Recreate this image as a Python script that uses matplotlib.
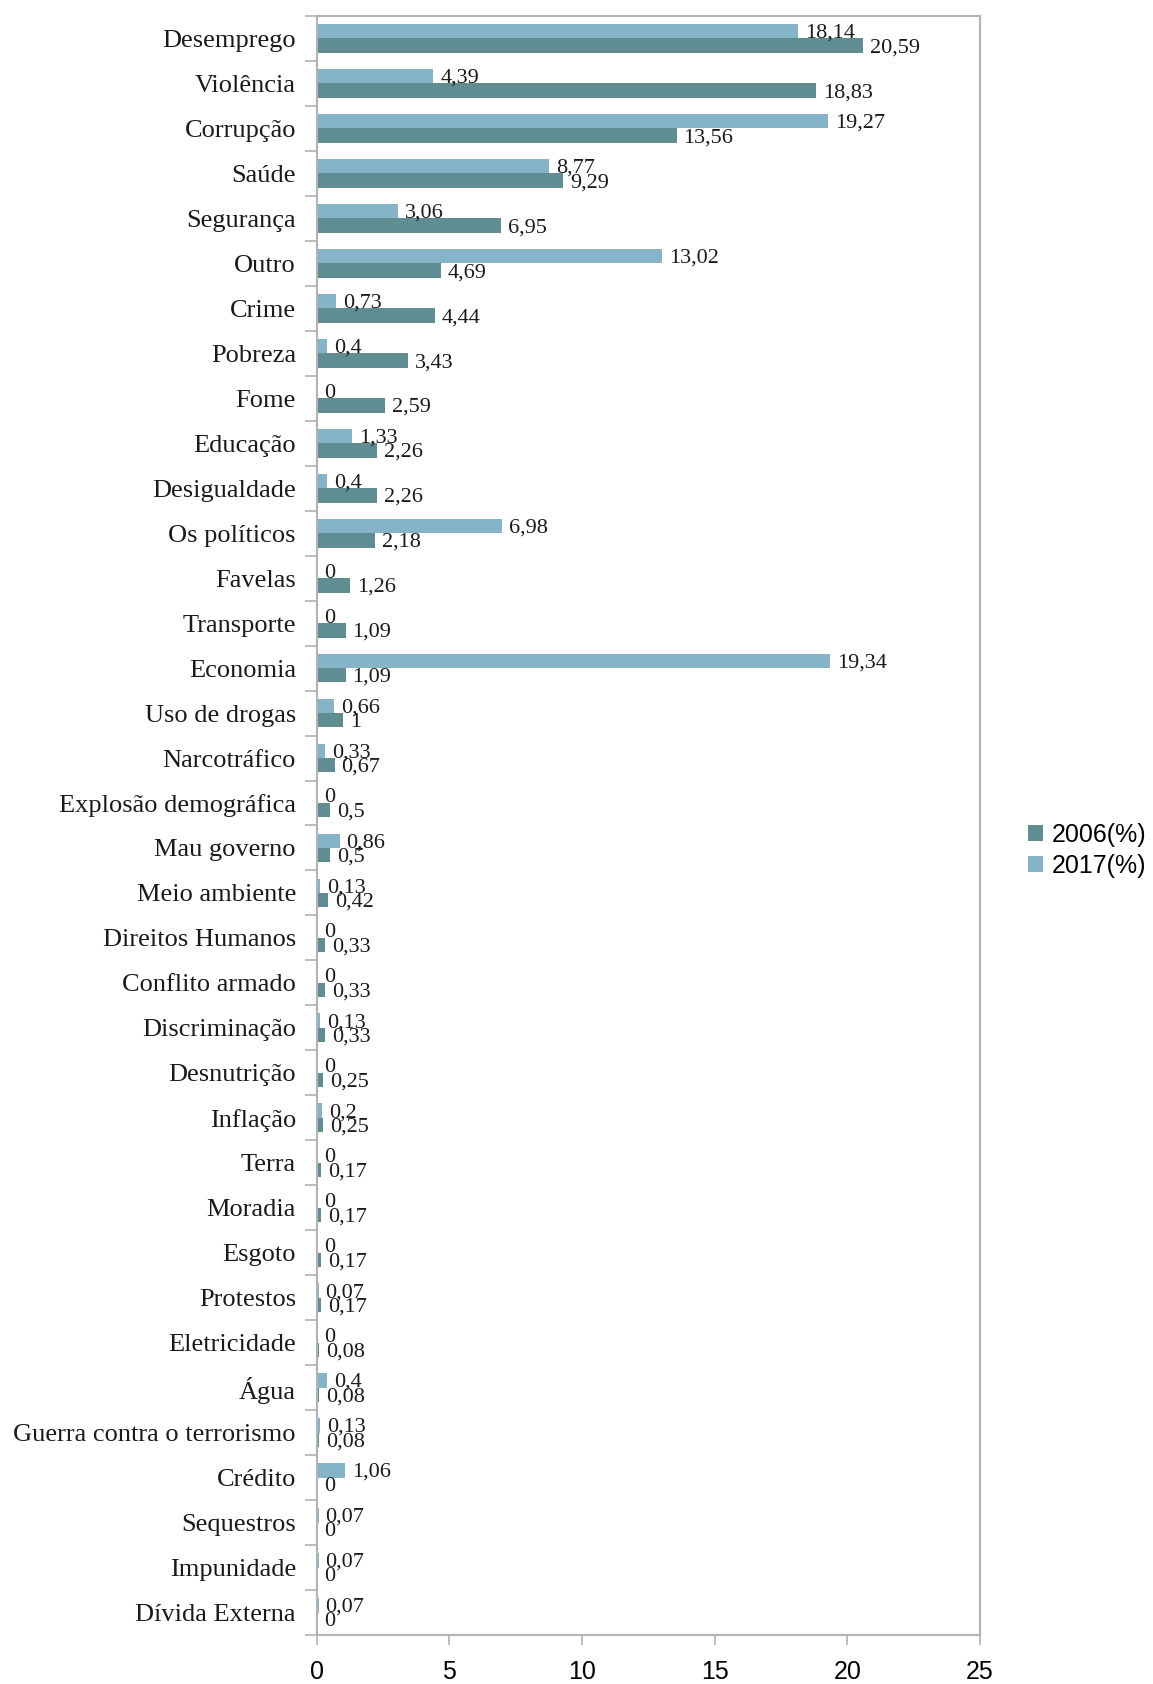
import numpy as np
import matplotlib
matplotlib.use("Agg")
import matplotlib.pyplot as plt
from matplotlib.patches import Patch

# Problemas mais importantes do país (percentual de respostas)
categorias = [
    "Desemprego", "Violência", "Corrupção", "Saúde", "Segurança", "Outro",
    "Crime", "Pobreza", "Fome", "Educação", "Desigualdade", "Os políticos",
    "Favelas", "Transporte", "Economia", "Uso de drogas", "Narcotráfico",
    "Explosão demográfica", "Mau governo", "Meio ambiente", "Direitos Humanos",
    "Conflito armado", "Discriminação", "Desnutrição", "Inflação", "Terra",
    "Moradia", "Esgoto", "Protestos", "Eletricidade", "Água",
    "Guerra contra o terrorismo", "Crédito", "Sequestros", "Impunidade",
    "Dívida Externa",
]
v2006 = [20.59, 18.83, 13.56, 9.29, 6.95, 4.69, 4.44, 3.43, 2.59, 2.26, 2.26,
         2.18, 1.26, 1.09, 1.09, 1, 0.67, 0.5, 0.5, 0.42, 0.33, 0.33, 0.33,
         0.25, 0.25, 0.17, 0.17, 0.17, 0.17, 0.08, 0.08, 0.08, 0, 0, 0, 0]
v2017 = [18.14, 4.39, 19.27, 8.77, 3.06, 13.02, 0.73, 0.4, 0, 1.33, 0.4,
         6.98, 0, 0, 19.34, 0.66, 0.33, 0, 0.86, 0.13, 0, 0, 0.13, 0, 0.2,
         0, 0, 0, 0.07, 0, 0.4, 0.13, 1.06, 0.07, 0.07, 0.07]
xticks = [0, 5, 10, 15, 20, 25]

COR_2006 = "#5f8d92"
COR_2017 = "#85b4c9"
CINZA = "#b3b3b3"
SERIF = ["Liberation Serif", "DejaVu Serif"]
SANS = ["Liberation Sans", "DejaVu Sans"]


def fmt(v):
    return f"{v:g}".replace(".", ",")


fig = plt.figure(figsize=(11.53, 16.84), dpi=100)
ax = fig.add_axes([0.2747, 0.0291, 0.8500 - 0.2747, 0.9905 - 0.0291])

n = len(categorias)
y = np.arange(n)
h = 0.32

b17 = ax.barh(y - h / 2, v2017, height=h, color=COR_2017, linewidth=0)
b06 = ax.barh(y + h / 2, v2006, height=h, color=COR_2006, linewidth=0)

for bars, vals in ((b17, v2017), (b06, v2006)):
    for bar, v in zip(bars, vals):
        ax.annotate(fmt(v), (v, bar.get_y() + bar.get_height() / 2),
                    xytext=(5, -1.5), textcoords="offset points",
                    ha="left", va="center", fontsize=16, family=SERIF,
                    color="#1a1a1a")

ax.set_xlim(0, 25)
ax.set_ylim(n - 0.5, -0.5)
ax.set_xticks(xticks)
ax.set_xticklabels([str(t) for t in xticks], family=SANS, fontsize=18)

ax.set_yticks(y)
ax.set_yticklabels(categorias, family=SERIF, fontsize=19, color="#1a1a1a")
ax.set_yticks(np.arange(-0.5, n, 1), minor=True)
ax.tick_params(axis="y", which="major", length=0, pad=15)
ax.tick_params(axis="y", which="minor", length=9, width=1.2, color=CINZA)
ax.tick_params(axis="x", length=7, width=1.2, color=CINZA, pad=11)

for s in ax.spines.values():
    s.set_color(CINZA)
    s.set_linewidth(1.5)

handles = [Patch(facecolor=COR_2006, label="2006(%)"),
           Patch(facecolor=COR_2017, label="2017(%)")]
fig.legend(handles=handles, loc="center left", bbox_to_anchor=(0.892, 0.495),
           frameon=False, prop={"family": SANS, "size": 18},
           handlelength=0.6, handleheight=0.6, handletextpad=0.35,
           labelspacing=0.3, borderaxespad=0, borderpad=0)

fig.savefig("out.png", dpi=100)
